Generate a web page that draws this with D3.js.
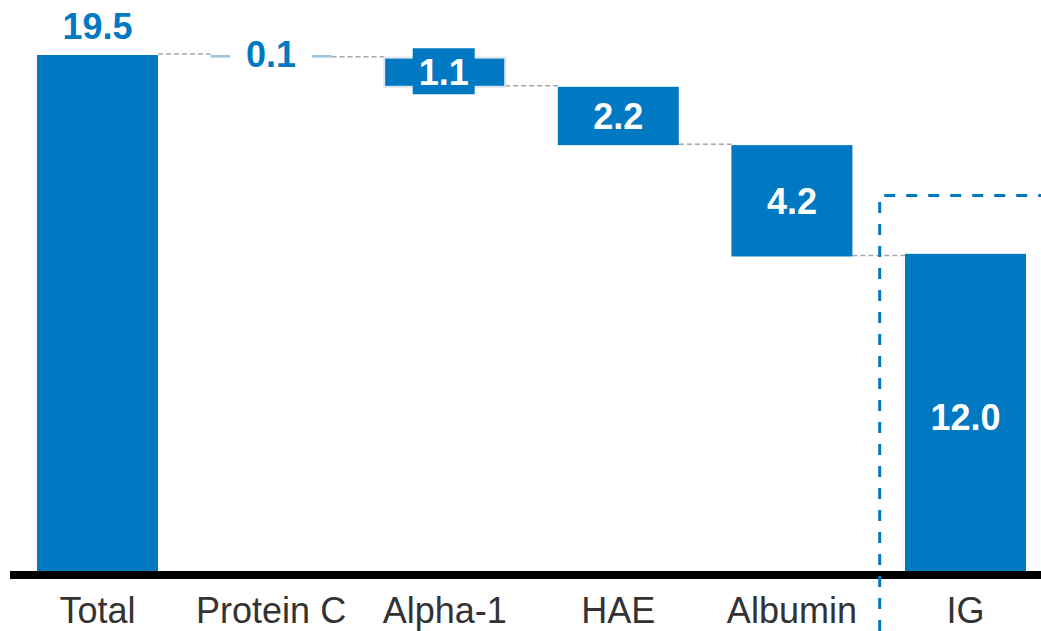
<!DOCTYPE html>
<html><head><meta charset="utf-8">
<script src="https://cdn.jsdelivr.net/npm/d3@7"></script>
<style>html,body{margin:0;padding:0;background:#fff;}svg{display:block;}</style>
</head><body>
<svg id="c" width="1041" height="631"></svg>
<script>
const categories = ["Total", "Protein C", "Alpha-1", "HAE", "Albumin", "IG"];
const values = [19.5, 0.1, 1.1, 2.2, 4.2, 12.0];
const labels = ["19.5", "0.1", "1.1", "2.2", "4.2", "12.0"];
const kinds = ["total", "step", "step", "step", "step", "total"];
const highlightLevel = 14.2;

const svg = d3.select("#c");
const blue = "#0079C2";
const x = d3.scaleBand().domain(categories).range([37, 1026]).paddingInner(0.303).paddingOuter(0);
const y = d3.scaleLinear().domain([0, 19.5]).range([572, 55]);
const bw = x.bandwidth();

// compute waterfall
let running = 0;
const rows = categories.map((c, i) => {
  let lo, hi;
  if (kinds[i] === "total") { lo = 0; hi = values[i]; running = values[i]; }
  else { hi = running; lo = running - values[i]; running = lo; }
  return {c, v: values[i], lab: labels[i], lo, hi, i};
});

// connectors
const conn = svg.append("g");
for (let i = 0; i < rows.length - 1; i++) {
  const a = rows[i], b = rows[i + 1];
  const level = kinds[i] === "total" ? a.hi : a.lo;
  conn.append("line")
    .attr("x1", x(a.c) + bw).attr("x2", x(b.c))
    .attr("y1", y(level) - 1).attr("y2", y(level) - 1)
    .attr("stroke", "#a6a6a6").attr("stroke-width", 1.5)
    .attr("stroke-dasharray", "5,3");
}

// bars
svg.append("g").selectAll("rect").data(rows).join("rect")
  .attr("x", d => x(d.c)).attr("width", bw)
  .attr("y", d => y(d.hi))
  .attr("height", d => Math.max(1.5, y(d.lo) - y(d.hi)))
  .attr("fill", d => (y(d.lo) - y(d.hi)) < 4 ? "#9fc6e0" : blue)
  .attr("stroke", d => d.c === "Alpha-1" ? "#dce6f0" : "none")
  .attr("stroke-width", 2);

// labels
const lg = svg.append("g").attr("font-family", "Liberation Sans, Arial, sans-serif")
  .attr("font-weight", "bold").attr("font-size", 36).attr("text-anchor", "middle");
rows.forEach(d => {
  const cx = x(d.c) + bw / 2;
  const h = y(d.lo) - y(d.hi);
  if (d.i === 0) {
    lg.append("text").attr("x", cx).attr("y", y(d.hi) - 16).attr("fill", blue).text(d.lab);
  } else if (h < 4) {
    lg.append("rect").attr("x", cx - 41).attr("y", y(d.hi) - 16).attr("width", 82).attr("height", 32).attr("fill", "#fff");
    lg.append("text").attr("x", cx).attr("y", y(d.hi) + 12).attr("fill", blue).text(d.lab);
  } else if (h < 40) {
    const cy = (y(d.lo) + y(d.hi)) / 2;
    lg.append("rect").attr("x", cx - 32).attr("y", cy - 24).attr("width", 62).attr("height", 46).attr("fill", blue);
    lg.append("text").attr("x", cx - 1).attr("y", cy + 13).attr("fill", "#fff").text(d.lab);
  } else {
    const cy = (y(d.lo) + y(d.hi)) / 2;
    lg.append("text").attr("x", cx).attr("y", (d.i === 5 ? cy + 4 : cy) + 13).attr("fill", "#fff").text(d.lab);
  }
});

// axis baseline
svg.append("line").attr("x1", 10).attr("x2", 1041).attr("y1", 575).attr("y2", 575)
  .attr("stroke", "#000").attr("stroke-width", 8);

// category labels
const xAxis = d3.axisBottom(x).tickSize(0).tickPadding(0);
const ax = svg.append("g").attr("transform", "translate(0,597)").call(xAxis);
ax.select(".domain").remove();
ax.selectAll("text").attr("font-family", "Liberation Sans, Arial, sans-serif")
  .attr("font-size", 36).attr("fill", "#333").attr("dy", "0.71em");

// highlight dashed box
const hx = (x("Albumin") + bw + x("IG")) / 2 + 1;
svg.append("path")
  .attr("d", `M${hx},631 L${hx},${y(highlightLevel)} L1041,${y(highlightLevel)}`)
  .attr("fill", "none").attr("stroke", blue).attr("stroke-width", 3)
  .attr("stroke-dasharray", "11,11").attr("stroke-dashoffset", 0);
</script>
</body></html>
